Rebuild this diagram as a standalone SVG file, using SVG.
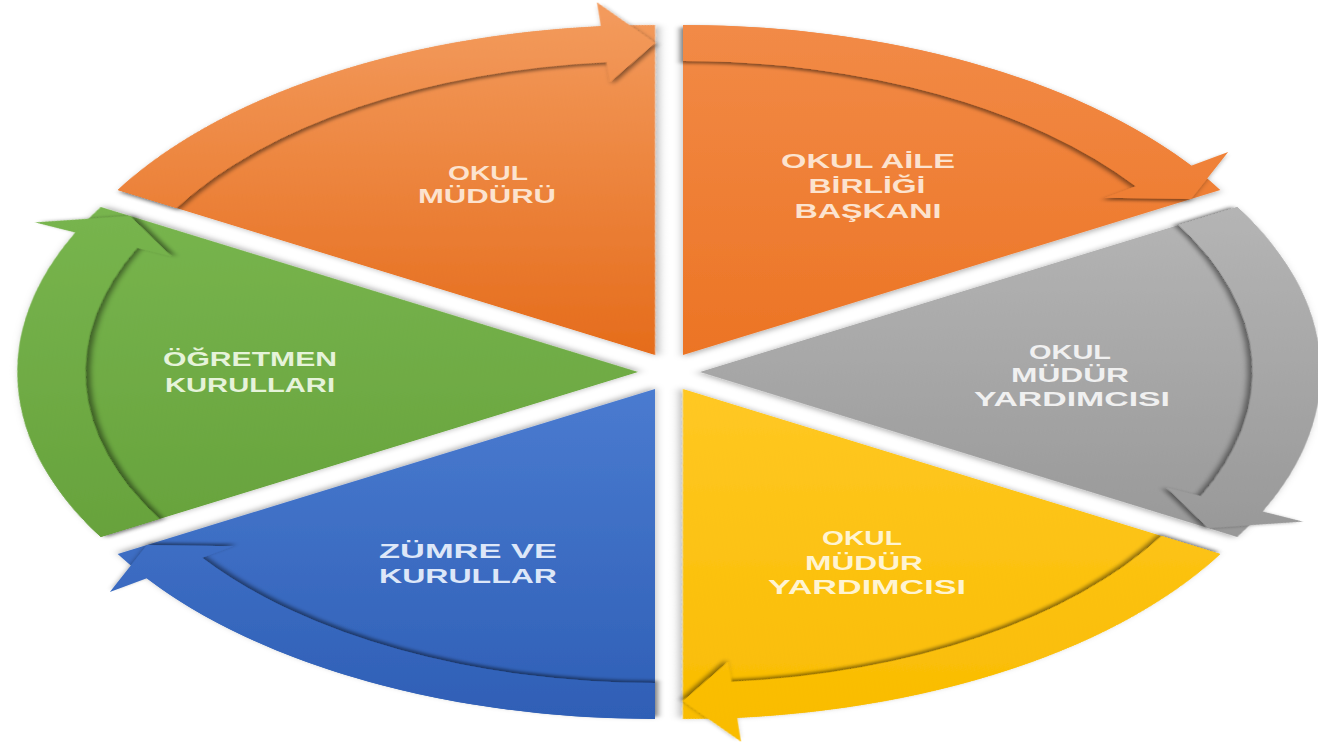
<svg xmlns="http://www.w3.org/2000/svg" width="1318" height="745" viewBox="0 0 1318 745">
<style>
.t{font-family:"Liberation Sans",Arial,sans-serif;font-size:20px;font-weight:bold;text-anchor:middle}
.to{fill:#FCE3CF}.tg{fill:#F0F0F0}.ty{fill:#FFF4D2}.tb{fill:#DDE7F8}.tgr{fill:#E6F3DA}
</style>
<defs>
<path id="pie" d="M0,0 L0,-330 A330,330 0 0 1 285.79,-165 Z"/>
<path id="arr" d="M0,-330 A330,330 0 0 1 270.32,-189.28 L289.98,-203.05 L270.20,-156 L224.45,-157.16 L240.83,-168.63 A294,294 0 0 0 0,-294 Z"/>
<filter id="soft" x="-20%" y="-20%" width="140%" height="140%">
<feDropShadow dx="0" dy="2" stdDeviation="2.5" flood-color="#000" flood-opacity="0.3"/>
</filter>
<filter id="ash" x="-20%" y="-20%" width="140%" height="140%">
<feDropShadow dx="-1.3" dy="2.3" stdDeviation="1.6" flood-color="#000" flood-opacity="0.45"/>
</filter>
<linearGradient id="gTL" gradientUnits="userSpaceOnUse" x1="0" y1="-340" x2="0" y2="0" gradientTransform="rotate(60)"><stop offset="0" stop-color="#F39A5C"/><stop offset="1" stop-color="#E56C1B"/></linearGradient>
<linearGradient id="gTR" gradientUnits="userSpaceOnUse" x1="0" y1="-340" x2="0" y2="0"><stop offset="0" stop-color="#F28B48"/><stop offset="1" stop-color="#EC7424"/></linearGradient>
<linearGradient id="gR" gradientUnits="userSpaceOnUse" x1="0" y1="-170" x2="0" y2="170" gradientTransform="rotate(-60)"><stop offset="0" stop-color="#B5B5B5"/><stop offset="1" stop-color="#989898"/></linearGradient>
<linearGradient id="gBR" gradientUnits="userSpaceOnUse" x1="0" y1="0" x2="0" y2="340" gradientTransform="rotate(-120)"><stop offset="0" stop-color="#FFC824"/><stop offset="1" stop-color="#F9BC00"/></linearGradient>
<linearGradient id="gBL" gradientUnits="userSpaceOnUse" x1="0" y1="0" x2="0" y2="340" gradientTransform="rotate(-180)"><stop offset="0" stop-color="#4A7BD0"/><stop offset="1" stop-color="#2E5EB5"/></linearGradient>
<linearGradient id="gL" gradientUnits="userSpaceOnUse" x1="0" y1="-170" x2="0" y2="170" gradientTransform="rotate(-240)"><stop offset="0" stop-color="#78B54E"/><stop offset="1" stop-color="#67A23C"/></linearGradient>
</defs>
<rect width="1318" height="745" fill="#FFFFFF"/>

<g id="node-okul-muduru">
<use href="#pie" transform="translate(655,355) scale(1.88,1) rotate(-60)" fill="url(#gTL)" filter="url(#soft)"/>
<text class="t to" x="488" y="180" textLength="80" lengthAdjust="spacingAndGlyphs">OKUL</text>
<text class="t to" x="487" y="203" textLength="138" lengthAdjust="spacingAndGlyphs">MÜDÜRÜ</text>
</g>

<g id="node-okul-aile-birligi">
<use href="#pie" transform="translate(683,355) scale(1.88,1)" fill="url(#gTR)" filter="url(#soft)"/>
<text class="t to" x="868" y="168" textLength="174" lengthAdjust="spacingAndGlyphs">OKUL AİLE</text>
<text class="t to" x="867" y="193" textLength="117" lengthAdjust="spacingAndGlyphs">BİRLİĞİ</text>
<text class="t to" x="868" y="218" textLength="147" lengthAdjust="spacingAndGlyphs">BAŞKANI</text>
</g>

<g id="node-mudur-yardimcisi-1">
<use href="#pie" transform="translate(700,372) scale(1.88,1) rotate(60)" fill="url(#gR)" filter="url(#soft)"/>
<text class="t tg" x="1070" y="359" textLength="82" lengthAdjust="spacingAndGlyphs">OKUL</text>
<text class="t tg" x="1070" y="382" textLength="118" lengthAdjust="spacingAndGlyphs">MÜDÜR</text>
<text class="t tg" x="1072" y="406" textLength="196" lengthAdjust="spacingAndGlyphs">YARDIMCISI</text>
</g>

<g id="node-mudur-yardimcisi-2">
<use href="#pie" transform="translate(683,389) scale(1.88,1) rotate(120)" fill="url(#gBR)" filter="url(#soft)"/>
<text class="t ty" x="862" y="545" textLength="80" lengthAdjust="spacingAndGlyphs">OKUL</text>
<text class="t ty" x="864" y="570" textLength="118" lengthAdjust="spacingAndGlyphs">MÜDÜR</text>
<text class="t ty" x="867" y="594" textLength="198" lengthAdjust="spacingAndGlyphs">YARDIMCISI</text>
</g>

<g id="node-zumre">
<use href="#pie" transform="translate(655,389) scale(1.88,1) rotate(180)" fill="url(#gBL)" filter="url(#soft)"/>
<text class="t tb" x="468" y="558" textLength="178" lengthAdjust="spacingAndGlyphs">ZÜMRE VE</text>
<text class="t tb" x="468" y="583" textLength="178" lengthAdjust="spacingAndGlyphs">KURULLAR</text>
</g>

<g id="node-ogretmen">
<use href="#pie" transform="translate(638,372) scale(1.88,1) rotate(240)" fill="url(#gL)" filter="url(#soft)"/>
<text class="t tgr" x="250" y="366" textLength="174" lengthAdjust="spacingAndGlyphs">ÖĞRETMEN</text>
<text class="t tgr" x="250" y="392" textLength="170" lengthAdjust="spacingAndGlyphs">KURULLARI</text>
</g>

<g id="connectors">
<use href="#arr" transform="translate(655,355) scale(1.88,1) rotate(-60)" fill="url(#gTL)" filter="url(#ash)"/>
<use href="#arr" transform="translate(683,355) scale(1.88,1)" fill="url(#gTR)" filter="url(#ash)"/>
<use href="#arr" transform="translate(700,372) scale(1.88,1) rotate(60)" fill="url(#gR)" filter="url(#ash)"/>
<use href="#arr" transform="translate(683,389) scale(1.88,1) rotate(120)" fill="url(#gBR)" filter="url(#ash)"/>
<use href="#arr" transform="translate(655,389) scale(1.88,1) rotate(180)" fill="url(#gBL)" filter="url(#ash)"/>
<use href="#arr" transform="translate(638,372) scale(1.88,1) rotate(240)" fill="url(#gL)" filter="url(#ash)"/>
</g>
</svg>
